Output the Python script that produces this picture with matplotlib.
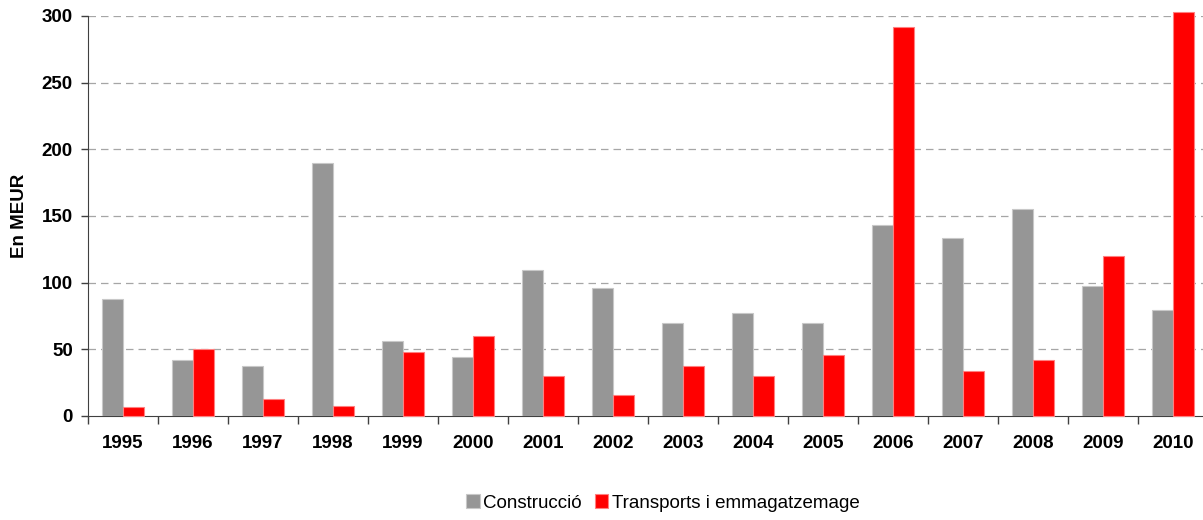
import matplotlib.pyplot as plt
import numpy as np

years = ['1995', '1996', '1997', '1998', '1999', '2000', '2001', '2002',
         '2003', '2004', '2005', '2006', '2007', '2008', '2009', '2010']
construccio = [88, 42, 37.5, 190, 56, 44, 109.5, 96, 69.5, 77.5, 69.5, 143.5, 133.5, 155, 97.5, 79.5]
transports = [7, 50, 12.5, 7.5, 48, 60, 30, 15.5, 37.5, 30, 45.5, 292, 34, 42, 120, 303]

plt.rcParams['font.family'] = ['Liberation Sans', 'DejaVu Sans']

fig = plt.figure(figsize=(12.03, 5.2), dpi=100)
# plot area runs a little past the right edge of the picture, as in the original
ax = fig.add_axes([88 / 1203, 104 / 520, 1120 / 1203, 400 / 520])

x = np.arange(len(years))
w = 0.305
ax.bar(x - w / 2, construccio, w, color='#969696', edgecolor='#c8c8c8',
       linewidth=0.8, label='Construcció', zorder=3)
ax.bar(x + w / 2, transports, w, color='#ff0000', edgecolor='#ff8080',
       linewidth=0.8, label='Transports i emmagatzemage', zorder=3, clip_on=False)

ax.set_xlim(-0.5, len(years) - 0.5)
ax.set_ylim(0, 300)
ax.set_yticks(range(0, 301, 50))
ax.set_xticks(x)
ax.set_xticklabels(years, fontsize=13.5, fontweight='bold')
ax.set_xticks(np.arange(-0.5, len(years), 1), minor=True)
ax.tick_params(axis='x', which='major', length=0, pad=14)
ax.tick_params(axis='x', which='minor', length=6, width=1, color='#404040', direction='out')
ax.tick_params(axis='y', length=5, width=1, color='#404040', labelsize=13.5, pad=6)
for lab in ax.get_yticklabels():
    lab.set_fontweight('bold')

for yv in range(50, 301, 50):
    ax.axhline(yv, color='#a6a6a6', linewidth=0.9, linestyle=(0, (6, 4)), zorder=1)

ax.spines['top'].set_visible(False)
ax.spines['right'].set_visible(False)
ax.spines['left'].set_color('#404040')
ax.spines['bottom'].set_color('#404040')

ax.set_ylabel('En MEUR', fontsize=13.5, fontweight='bold')
ax.yaxis.set_label_coords(-60 / 1120, 0.5)

fig.legend(loc='center', bbox_to_anchor=(663 / 1203, 1 - 503 / 520), ncol=2,
           frameon=False, fontsize=13.5, handlelength=0.7, handleheight=0.7,
           handletextpad=0.2, columnspacing=0.7)

fig.savefig('out.png', dpi=100)
